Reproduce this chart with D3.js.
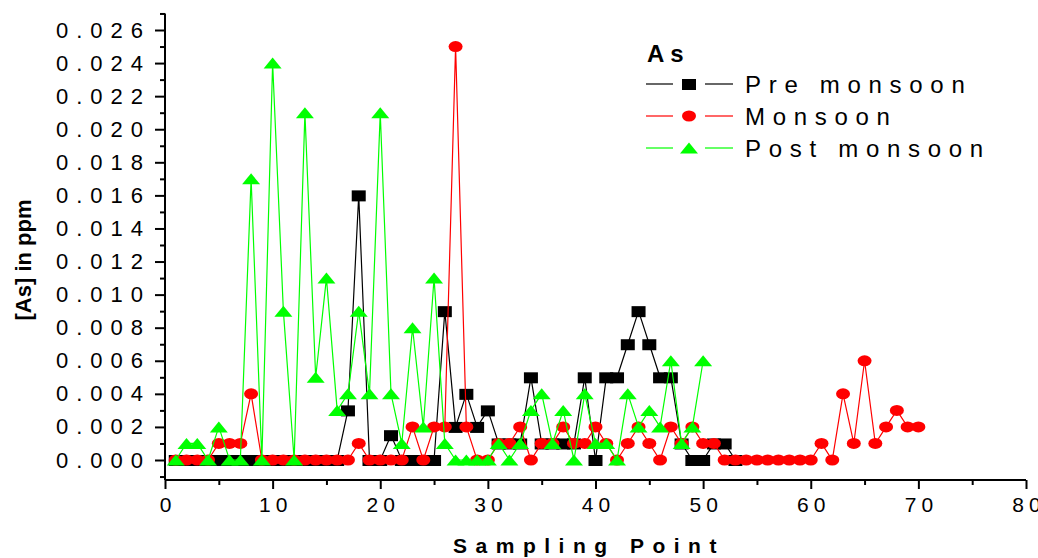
<!DOCTYPE html>
<html>
<head>
<meta charset="utf-8">
<script src="https://cdn.jsdelivr.net/npm/d3@7"></script>
<style>
  body { margin: 0; background: #fff; }
  svg text { font-family: Arial, "Liberation Sans", sans-serif; }
</style>
</head>
<body>
<svg id="chart" width="1038" height="558"></svg>
<script>
"use strict";

// sampling points 1..n for each season
let preMonsoon = [0, 0, 0, 0, 0, 0, 0, 0, 0, 0, 0, 0, 0, 0, 0, 0,
  0.003, 0.016, 0, 0, 0.0015, 0, 0, 0, 0, 0.009, 0.002, 0.004, 0.002, 0.003,
  0.001, 0.001, 0.001, 0.005, 0.001, 0.001, 0.001, 0.001, 0.005, 0,
  0.005, 0.005, 0.007, 0.009, 0.007, 0.005, 0.005, 0.001, 0, 0,
  0.001, 0.001, 0];
let monsoon = [0, 0, 0, 0, 0.001, 0.001, 0.001, 0.004, 0, 0,
  0, 0, 0, 0, 0, 0, 0, 0.001, 0, 0,
  0, 0, 0.002, 0, 0.002, 0.002, 0.025, 0.002, 0, 0,
  0.001, 0.001, 0.002, 0, 0.001, 0.001, 0.002, 0.001, 0.001, 0.002,
  0.001, 0, 0.001, 0.002, 0.001, 0, 0.002, 0.001, 0.002, 0.001,
  0.001, 0, 0, 0, 0, 0, 0, 0, 0, 0,
  0.001, 0, 0.004, 0.001, 0.006, 0.001, 0.002, 0.003, 0.002, 0.002];
let postMonsoon = [0, 0.001, 0.001, 0, 0.002, 0, 0, 0.017, 0, 0.024,
  0.009, 0, 0.021, 0.005, 0.011, 0.003, 0.004, 0.009, 0.004, 0.021,
  0.004, 0.001, 0.008, 0.002, 0.011, 0.001, 0, 0, 0, 0,
  0.001, 0, 0.001, 0.003, 0.004, 0.001, 0.003, 0, 0.004, 0.001,
  0.001, 0, 0.004, 0.002, 0.003, 0.002, 0.006, 0.001, 0.002, 0.006];

let seriesNames = ['Pre monsoon', 'Monsoon', 'Post monsoon'];
let seriesColours = ['#000000', '#ff0000', '#00ff00'];
let seriesShapes = ['square', 'circle', 'triangle'];

let xMajor = d3.range(0, 81, 10);
let xMinor = d3.range(5, 80, 10);
let yMajor = d3.range(0, 14).map(i => i * 0.002);
let yMinor = d3.range(-1, 28, 2).map(i => i * 0.001);

let svg = d3.select('svg#chart');

let xScale = d3.scaleLinear().domain([0, 80]).range([165, 1026]);
let yScale = d3.scaleLinear().domain([0, 0.026]).range([460, 30]);
let yBottom = yScale.invert(480);
let yTop = 0.027;

/* axes */
let yAxis = svg.append('g')
  .attr('transform', `translate(${xScale(0)}, 0)`)
  .call(d3.axisLeft(yScale).tickValues(yMajor).tickSize(10).tickPadding(12)
    .tickFormat(d3.format('.3f')));
svg.append('g')
  .attr('transform', `translate(${xScale(0)}, 0)`)
  .call(d3.axisLeft(yScale).tickValues(yMinor).tickSize(5).tickFormat(''));

let xAxis = svg.append('g')
  .attr('transform', `translate(0, ${yScale(yBottom)})`)
  .call(d3.axisBottom(xScale).tickValues(xMajor).tickSize(9).tickPadding(8));
svg.append('g')
  .attr('transform', `translate(0, ${yScale(yBottom)})`)
  .call(d3.axisBottom(xScale).tickValues(xMinor).tickSize(5).tickFormat(''));

svg.selectAll('.domain').remove();
svg.selectAll('.tick line').attr('stroke', '#000').attr('stroke-width', 2);

yAxis.selectAll('text')
  .attr('font-size', 22)
  .attr('fill', '#000')
  .style('letter-spacing', '8px')
  .attr('dx', 8);
xAxis.selectAll('text')
  .attr('font-size', 21)
  .attr('fill', '#000')
  .style('letter-spacing', '5px')
  .attr('dx', 2.5);

svg.append('line')
  .attr('x1', xScale(0)).attr('x2', xScale(0))
  .attr('y1', yScale(yBottom)).attr('y2', yScale(yTop))
  .attr('stroke', '#000').attr('stroke-width', 2);
svg.append('line')
  .attr('x1', xScale(0)).attr('x2', xScale(80))
  .attr('y1', yScale(yBottom)).attr('y2', yScale(yBottom))
  .attr('stroke', '#000').attr('stroke-width', 2);

/* axis titles */
svg.append('text')
  .attr('text-anchor', 'middle')
  .attr('transform', 'translate(31, 260) rotate(-90)')
  .attr('font-size', 22)
  .attr('font-weight', 'bold')
  .text('[As] in ppm');

svg.append('text')
  .attr('text-anchor', 'middle')
  .attr('x', 589)
  .attr('y', 553)
  .attr('font-size', 21)
  .attr('font-weight', 'bold')
  .style('letter-spacing', '8.5px')
  .text('Sampling Point');

/* markers */
function drawMarker(g, shape, colour, cx, cy) {
  if (shape == 'square') {
    g.append('rect')
      .attr('x', cx - 7).attr('y', cy - 5)
      .attr('width', 14).attr('height', 11)
      .attr('fill', colour);
  } else if (shape == 'circle') {
    g.append('ellipse')
      .attr('cx', cx).attr('cy', cy)
      .attr('rx', 7).attr('ry', 5.5)
      .attr('fill', colour);
  } else {
    g.append('path')
      .attr('d', `M${cx - 9},${cy + 5.5}L${cx + 9},${cy + 5.5}L${cx},${cy - 5.5}Z`)
      .attr('fill', colour);
  }
}

let allSeries = [preMonsoon, monsoon, postMonsoon];
let line = d3.line()
  .x((d, i) => xScale(i + 1))
  .y(d => yScale(d));

allSeries.forEach((values, s) => {
  let g = svg.append('g');
  g.append('path')
    .attr('d', line(values))
    .attr('fill', 'none')
    .attr('stroke', seriesColours[s])
    .attr('stroke-width', 1.2);
  values.forEach((v, i) => {
    drawMarker(g, seriesShapes[s], seriesColours[s], xScale(i + 1), yScale(v));
  });
});

/* legend */
let legend = svg.append('g');
legend.append('text')
  .attr('x', 647)
  .attr('y', 62)
  .attr('font-size', 24)
  .attr('font-weight', 'bold')
  .style('letter-spacing', '6px')
  .text('As');

seriesNames.forEach((name, s) => {
  let ly = 84 + s * 32;
  legend.append('line')
    .attr('x1', 646).attr('x2', 673).attr('y1', ly).attr('y2', ly)
    .attr('stroke', seriesColours[s]).attr('stroke-width', 1.2);
  legend.append('line')
    .attr('x1', 705).attr('x2', 733).attr('y1', ly).attr('y2', ly)
    .attr('stroke', seriesColours[s]).attr('stroke-width', 1.2);
  drawMarker(legend, seriesShapes[s], seriesColours[s], 689, ly);
  legend.append('text')
    .attr('x', 745)
    .attr('y', ly + 8.5)
    .attr('font-size', 24)
    .style('letter-spacing', '7.7px')
    .text(name);
});
</script>
</body>
</html>
